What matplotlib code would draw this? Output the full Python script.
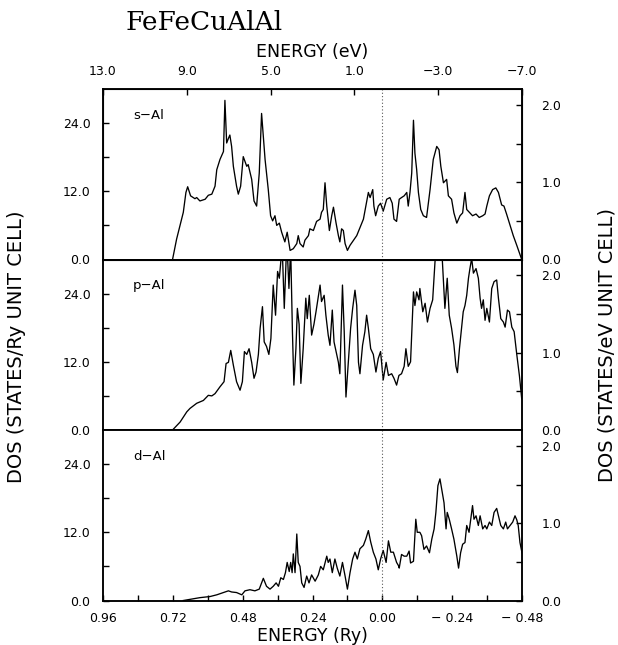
import matplotlib
matplotlib.use("Agg")
import matplotlib.pyplot as plt
from matplotlib.ticker import FixedLocator, FuncFormatter

RY_TO_EV = 13.6057

# ---- s-Al partial DOS (energy in Ry, DOS in states/Ry unit cell)
s_energy = [0.721, 0.707, 0.684, 0.675, 0.669, 0.659, 0.644, 0.638, 0.627, 0.609,
            0.598, 0.586, 0.575, 0.569, 0.558, 0.546, 0.541, 0.535, 0.529, 0.524,
            0.518, 0.512, 0.501, 0.495, 0.487, 0.478, 0.466, 0.461, 0.449, 0.441,
            0.432, 0.423, 0.415, 0.409, 0.403, 0.398, 0.392, 0.384, 0.377, 0.369,
            0.363, 0.354, 0.346, 0.335, 0.327, 0.317, 0.306, 0.294, 0.289, 0.283,
            0.272, 0.266, 0.254, 0.249, 0.237, 0.226, 0.214, 0.209, 0.203, 0.197,
            0.191, 0.182, 0.174, 0.168, 0.159, 0.151, 0.146, 0.140, 0.134, 0.128,
            0.120, 0.111, 0.088, 0.065, 0.048, 0.042, 0.033, 0.029, 0.023, 0.014,
            0.006, -0.003, -0.015, -0.026, -0.034, -0.040, -0.049, -0.058, -0.066, -0.075,
            -0.084, -0.089, -0.095, -0.101, -0.107, -0.112, -0.118, -0.124, -0.132, -0.141,
            -0.152, -0.164, -0.175, -0.187, -0.195, -0.201, -0.210, -0.221, -0.227, -0.238,
            -0.246, -0.256, -0.267, -0.276, -0.284, -0.290, -0.301, -0.310, -0.322, -0.333,
            -0.345, -0.353, -0.359, -0.368, -0.379, -0.390, -0.399, -0.410, -0.418, -0.427,
            -0.439, -0.450, -0.462, -0.479]
s_dos = [0.0, 3.6, 8.3, 11.8, 12.8, 11.2, 10.7, 10.9, 10.3, 10.6,
         11.3, 11.5, 12.9, 15.8, 17.6, 19.0, 28.0, 20.5, 21.3, 21.9,
         19.9, 16.4, 12.9, 11.5, 12.9, 18.1, 16.4, 16.7, 14.1, 10.3,
         9.4, 15.2, 25.7, 21.6, 17.6, 15.2, 12.3, 7.7, 6.8, 7.7,
         6.0, 6.4, 4.8, 3.1, 4.8, 1.6, 1.9, 2.8, 4.2, 2.8,
         2.2, 3.4, 4.2, 5.4, 5.1, 6.7, 7.1, 8.3, 8.8, 13.5,
         9.4, 5.1, 7.7, 9.2, 6.4, 4.2, 3.1, 5.4, 5.1, 2.8,
         1.6, 2.5, 4.2, 7.1, 11.8, 10.9, 12.3, 9.4, 7.7, 9.4,
         9.9, 8.5, 10.6, 10.9, 9.9, 7.1, 6.7, 10.6, 10.9, 11.2,
         11.8, 9.4, 11.8, 15.2, 24.5, 18.7, 15.8, 11.8, 8.8, 7.7,
         7.4, 12.3, 17.6, 19.9, 19.3, 16.4, 13.5, 14.1, 11.2, 10.6,
         8.2, 6.4, 7.7, 8.2, 11.8, 8.8, 8.2, 7.7, 8.0, 7.4,
         7.7, 8.0, 9.4, 11.2, 12.3, 12.6, 11.8, 9.6, 9.4, 8.0,
         6.0, 4.2, 2.5, 0.0]

# ---- p-Al partial DOS
p_energy = [0.721, 0.695, 0.672, 0.661, 0.638, 0.615, 0.598, 0.586, 0.575, 0.558,
            0.544, 0.537, 0.529, 0.521, 0.512, 0.501, 0.489, 0.481, 0.474, 0.466,
            0.458, 0.449, 0.441, 0.434, 0.426, 0.420, 0.412, 0.406, 0.398, 0.390,
            0.383, 0.375, 0.367, 0.360, 0.354, 0.349, 0.344, 0.337, 0.331, 0.327,
            0.321, 0.315, 0.309, 0.304, 0.297, 0.292, 0.286, 0.280, 0.272, 0.263,
            0.258, 0.251, 0.243, 0.235, 0.228, 0.220, 0.214, 0.209, 0.200, 0.194,
            0.186, 0.180, 0.172, 0.166, 0.159, 0.151, 0.146, 0.137, 0.131, 0.125,
            0.117, 0.109, 0.102, 0.094, 0.088, 0.082, 0.077, 0.068, 0.060, 0.054,
            0.048, 0.040, 0.031, 0.022, 0.014, 0.006, -0.003, -0.013, -0.021, -0.032,
            -0.040, -0.049, -0.057, -0.066, -0.075, -0.081, -0.089, -0.097, -0.107, -0.112,
            -0.118, -0.126, -0.129, -0.139, -0.147, -0.155, -0.164, -0.173, -0.181, -0.187,
            -0.204, -0.210, -0.215, -0.223, -0.230, -0.238, -0.246, -0.253, -0.258, -0.265,
            -0.273, -0.278, -0.284, -0.290, -0.296, -0.301, -0.307, -0.313, -0.322, -0.330,
            -0.336, -0.341, -0.347, -0.353, -0.359, -0.368, -0.376, -0.384, -0.393, -0.399,
            -0.407, -0.416, -0.422, -0.430, -0.437, -0.445, -0.453, -0.462, -0.471, -0.479]
p_dos = [0.0, 1.4, 3.2, 3.8, 4.7, 5.2, 6.1, 6.0, 6.4, 7.6,
         8.5, 11.7, 11.9, 14.0, 11.4, 8.5, 7.0, 8.5, 13.8, 13.3,
         14.3, 11.9, 9.1, 10.2, 13.3, 17.9, 21.7, 15.5, 14.7, 13.3,
         16.1, 25.5, 20.2, 27.9, 26.7, 29.6, 32.0, 21.4, 29.6, 32.0,
         24.9, 32.0, 17.3, 7.9, 14.3, 21.4, 18.6, 8.2, 14.3, 23.2,
         19.6, 23.7, 16.7, 18.6, 20.8, 23.5, 25.5, 22.6, 23.7, 20.2,
         16.7, 14.9, 21.1, 15.5, 13.8, 11.9, 9.9, 25.5, 17.3, 5.8,
         11.9, 17.9, 21.4, 24.6, 21.9, 11.9, 9.9, 14.9, 17.3, 20.2,
         17.9, 14.3, 13.3, 10.2, 12.6, 13.8, 8.8, 11.9, 9.6, 9.9,
         9.1, 7.9, 9.6, 9.9, 11.2, 14.3, 11.2, 12.0, 24.3, 21.9,
         24.3, 22.9, 24.9, 20.8, 22.3, 19.0, 21.4, 22.9, 29.6, 32.0,
         32.0, 26.1, 21.4, 26.7, 20.2, 17.9, 15.0, 11.2, 10.1, 14.3,
         18.4, 20.8, 21.9, 23.7, 26.7, 28.4, 30.2, 27.6, 28.4, 26.7,
         23.2, 21.4, 22.9, 19.3, 21.4, 19.0, 24.9, 26.1, 26.4, 23.2,
         19.6, 19.0, 18.1, 21.1, 20.8, 18.1, 17.3, 13.3, 9.6, 5.5]

# ---- d-Al partial DOS
d_energy = [0.684, 0.627, 0.592, 0.569, 0.546, 0.529, 0.518, 0.501, 0.483, 0.472,
            0.455, 0.438, 0.423, 0.409, 0.398, 0.386, 0.375, 0.365, 0.357, 0.349,
            0.340, 0.333, 0.327, 0.320, 0.315, 0.310, 0.306, 0.300, 0.294, 0.289,
            0.283, 0.277, 0.269, 0.260, 0.252, 0.243, 0.231, 0.220, 0.212, 0.203,
            0.191, 0.186, 0.180, 0.172, 0.163, 0.155, 0.146, 0.137, 0.128, 0.120,
            0.111, 0.102, 0.094, 0.086, 0.077, 0.065, 0.057, 0.048, 0.040, 0.031,
            0.022, 0.014, 0.006, -0.003, -0.013, -0.021, -0.029, -0.038, -0.049, -0.057,
            -0.058, -0.066, -0.075, -0.084, -0.092, -0.097, -0.107, -0.115, -0.120, -0.129,
            -0.135, -0.143, -0.152, -0.162, -0.170, -0.178, -0.184, -0.191, -0.198, -0.204,
            -0.212, -0.219, -0.223, -0.230, -0.238, -0.246, -0.256, -0.262, -0.269, -0.276,
            -0.284, -0.290, -0.298, -0.304, -0.310, -0.315, -0.322, -0.330, -0.336, -0.345,
            -0.353, -0.359, -0.368, -0.376, -0.384, -0.393, -0.399, -0.407, -0.416, -0.424,
            -0.430, -0.439, -0.448, -0.456, -0.462, -0.467, -0.473, -0.480]
d_dos = [0.0, 0.5, 0.7, 1.0, 1.4, 1.7, 1.5, 1.4, 1.0, 1.7,
         1.9, 1.7, 2.0, 3.9, 2.5, 2.0, 2.5, 3.1, 2.5, 4.0,
         3.7, 4.9, 6.7, 5.1, 6.7, 4.9, 8.2, 4.9, 11.7, 6.7,
         6.0, 3.1, 2.3, 4.3, 3.1, 4.5, 3.4, 4.5, 6.0, 5.4,
         7.8, 6.7, 7.3, 4.9, 7.3, 5.7, 4.3, 6.7, 4.3, 2.0,
         4.9, 7.3, 8.5, 7.3, 9.1, 9.7, 10.8, 12.3, 10.3, 8.5,
         7.3, 5.4, 7.3, 8.8, 6.7, 10.5, 8.5, 8.5, 6.7, 6.0,
         5.7, 8.1, 7.8, 7.8, 8.7, 6.6, 6.9, 14.3, 12.0, 12.0,
         11.4, 9.0, 9.6, 8.4, 10.8, 12.6, 15.5, 20.2, 21.4, 19.6,
         17.2, 12.6, 15.5, 14.3, 12.6, 10.8, 7.8, 5.7, 8.4, 9.9,
         10.2, 13.2, 12.0, 14.3, 16.7, 14.3, 14.9, 13.2, 14.9, 12.6,
         13.2, 12.6, 13.8, 13.2, 15.5, 16.2, 14.9, 13.2, 12.6, 13.8,
         12.6, 13.2, 13.8, 14.9, 14.2, 13.2, 10.2, 8.4]

panel_names = ["s\u2212Al", "p\u2212Al", "d\u2212Al"]

ry_ticks = [0.96, 0.84, 0.72, 0.60, 0.48, 0.36, 0.24, 0.12, 0.00, -0.12, -0.24, -0.36, -0.48]
ry_labels = [0.96, 0.72, 0.48, 0.24, 0.00, -0.24, -0.48]
ev_ticks = [13.0, 9.0, 5.0, 1.0, -3.0, -7.0]
dos_ticks = [0, 6, 12, 18, 24]
dos_labels = [0, 12, 24]
dos_ev_ticks = [0.0, 0.5, 1.0, 1.5, 2.0]
dos_ev_labels = [0.0, 1.0, 2.0]

plt.rcParams["font.family"] = ["DejaVu Sans"]
fig = plt.figure(figsize=(6.18, 6.45), dpi=100)

W, H = 618.0, 645.0
left, right = 103.0, 522.0
top, bottom = 89.0, 600.5
ph = (bottom - top) / 3.0

tick_kw = dict(direction="in", length=4.5, width=1.0, labelsize=9, colors="black")


def ry_label(v, pos):
    if not any(abs(v - t) < 1e-6 for t in ry_labels):
        return ""
    if abs(v) < 1e-9:
        return "0.00"
    return f"{v:.2f}".replace("-", "\u2212 ")


series = [(s_energy, s_dos), (p_energy, p_dos), (d_energy, d_dos)]
axes = []
for i, (e, d) in enumerate(series):
    y0 = top + ph * (i + 1)
    ax = fig.add_axes([left / W, 1 - y0 / H, (right - left) / W, ph / H])
    axes.append(ax)
    ax.plot(e, d, color="black", lw=0.95)
    ax.axvline(0.0, color="0.35", lw=0.8, ls=(0, (1, 2)))
    ax.set_xlim(0.96, -0.48)
    ax.set_ylim(0, 30)
    for sp in ax.spines.values():
        sp.set_linewidth(1.1)

    ax.yaxis.set_major_locator(FixedLocator(dos_ticks))
    ax.yaxis.set_major_formatter(
        FuncFormatter(lambda v, p: f"{v:.1f}" if v in dos_labels else ""))
    ax.tick_params(axis="y", pad=9, **tick_kw)

    ax.xaxis.set_major_locator(FixedLocator(ry_ticks))
    if i == 2:
        ax.xaxis.set_major_formatter(FuncFormatter(ry_label))
        ax.tick_params(axis="x", pad=8, **tick_kw)
    else:
        ax.tick_params(axis="x", length=0, labelbottom=False)

    # DOS per eV on the right-hand side
    axr = ax.twinx()
    axr.set_ylim(0, 30 / RY_TO_EV)
    axr.yaxis.set_major_locator(FixedLocator(dos_ev_ticks))
    axr.yaxis.set_major_formatter(
        FuncFormatter(lambda v, p: f"{v:.1f}" if v in dos_ev_labels else ""))
    axr.tick_params(axis="y", pad=14, **tick_kw)
    for sp in axr.spines.values():
        sp.set_linewidth(1.1)

    ax.text(0.072, 0.885, panel_names[i], transform=ax.transAxes,
            ha="left", va="top", fontsize=9.5)

# energy in eV along the top of the first panel
axt = axes[0].twiny()
axt.set_xlim(13.0, -7.0)
axt.xaxis.set_major_locator(FixedLocator(ev_ticks))
axt.xaxis.set_major_formatter(FuncFormatter(lambda v, p: f"{v:.1f}".replace("-", "\u2212")))
axt.tick_params(axis="x", pad=8, **tick_kw)

fig.text((left + right) / 2 / W, 1 - 52 / H, "ENERGY (eV)", ha="center", va="center", fontsize=12.5)
fig.text((left + right) / 2 / W, 1 - 636 / H, "ENERGY (Ry)", ha="center", va="center", fontsize=12.5)
fig.text(17 / W, 1 - 347 / H, "DOS (STATES/Ry UNIT CELL)", rotation=90,
         ha="center", va="center", fontsize=14)
fig.text(607 / W, 1 - 345 / H, "DOS (STATES/eV UNIT CELL)", rotation=90,
         ha="center", va="center", fontsize=14)
fig.text(125 / W, 1 - 30 / H, "FeFeCuAlAl", ha="left", va="baseline",
         fontsize=19, family="DejaVu Serif")

fig.savefig("out.png", dpi=100, facecolor="white")
